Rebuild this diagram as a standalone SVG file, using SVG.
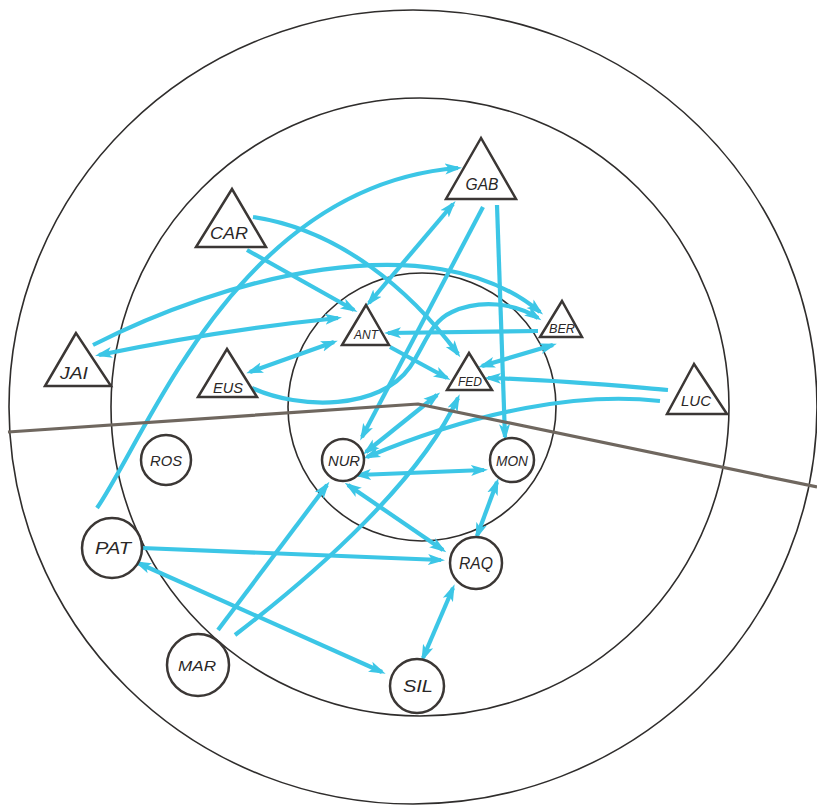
<svg xmlns="http://www.w3.org/2000/svg" width="817" height="807" viewBox="0 0 817 807">
<style>
.ring{fill:none;stroke:#2f2d2c;stroke-width:1.6}
.divider{fill:none;stroke:#6f675f;stroke-width:3.2;stroke-linejoin:round}
.c{fill:none;stroke:#3cc6e6;stroke-width:4.2;stroke-linecap:butt}
.e{marker-end:url(#ah)}
.b{marker-start:url(#ah);marker-end:url(#ah)}
.node{fill:#fff;stroke:#3b3735;stroke-width:2.5;stroke-linejoin:miter}
.lbl{font-family:"Liberation Sans",Arial,sans-serif;font-style:italic;fill:#2a2727;text-anchor:middle}
</style>
<defs>
<marker id="ah" markerUnits="userSpaceOnUse" markerWidth="18" markerHeight="14" refX="13" refY="7" orient="auto-start-reverse" viewBox="0 0 18 14">
<path d="M0,1.5 L17,7 L0,12.5 L4,7 Z" fill="#3cc6e6"/>
</marker>
</defs>
<rect width="817" height="807" fill="#fff"/>
<g id="rings">
<ellipse class="ring" cx="413" cy="407" rx="404" ry="397"/>
<circle class="ring" cx="420" cy="407" r="309"/>
<circle class="ring" cx="422" cy="407" r="134"/>
</g>
<g id="connectors">
<path class="c e" d="M97,508 C150,430 240,185 458,168"/>
<path class="c e" d="M93,345 C220,280 430,220 540,312"/>
<path class="c b" d="M99,355 Q220,330 338,318"/>
<path class="c e" d="M247,250 L354,310"/>
<path class="c e" d="M253,217 C340,230 410,290 458,354"/>
<path class="c b" d="M453,204 L369,303"/>
<path class="c e" d="M483,207 L362,437"/>
<path class="c e" d="M497,205 L505,437"/>
<path class="c e" d="M538,331 L388,333"/>
<path class="c b" d="M553,345 L482,366"/>
<path class="c b" d="M250,372 L334,342"/>
<path class="c e" d="M252,388 C300,410 380,410 410,367 C425,345 430,322 452,312 C480,299 515,303 538,318"/>
<path class="c e" d="M390,347 L447,378"/>
<path class="c e" d="M668,390 C620,386 560,380 488,378"/>
<path class="c e" d="M660,401 C580,392 480,410 367,457"/>
<path class="c b" d="M437,395 L366,452"/>
<path class="c b" d="M358,475 L484,470"/>
<path class="c e" d="M218,630 L327,485"/>
<path class="c e" d="M235,635 C320,570 420,480 458,398"/>
<path class="c e" d="M142,548 L441,560"/>
<path class="c b" d="M138,563 L382,672"/>
<path class="c b" d="M423,658 L453,588"/>
<path class="c b" d="M477,536 L497,482"/>
<path class="c b" d="M348,485 L443,550"/>
</g>
<polyline id="divider" class="divider" points="8,432 418,404 817,487"/>
<g id="GAB"><polygon class="node" points="481,138 446,199 516,199"/><text class="lbl" x="482" y="190" font-size="16" textLength="33" lengthAdjust="spacingAndGlyphs">GAB</text></g>
<g id="CAR"><polygon class="node" points="232,189 196,247 266,247"/><text class="lbl" x="229" y="239" font-size="16" textLength="38" lengthAdjust="spacingAndGlyphs">CAR</text></g>
<g id="JAI"><polygon class="node" points="76,333 45,386 111,386"/><text class="lbl" x="74" y="379" font-size="16" textLength="28" lengthAdjust="spacingAndGlyphs">JAI</text></g>
<g id="EUS"><polygon class="node" points="227,349 198,397 257,397"/><text class="lbl" x="228" y="393" font-size="15" textLength="30" lengthAdjust="spacingAndGlyphs">EUS</text></g>
<g id="ANT"><polygon class="node" points="366,305 342,345 389,345"/><text class="lbl" x="366" y="339" font-size="13" textLength="24" lengthAdjust="spacingAndGlyphs">ANT</text></g>
<g id="BER"><polygon class="node" points="562,301 540,337 582,337"/><text class="lbl" x="562" y="333" font-size="13" textLength="26" lengthAdjust="spacingAndGlyphs">BER</text></g>
<g id="FED"><polygon class="node" points="469,353 447,390 492,390"/><text class="lbl" x="470" y="386" font-size="13" textLength="24" lengthAdjust="spacingAndGlyphs">FED</text></g>
<g id="LUC"><polygon class="node" points="694,364 667,414 727,414"/><text class="lbl" x="696" y="406" font-size="15" textLength="30" lengthAdjust="spacingAndGlyphs">LUC</text></g>
<g id="ROS"><circle class="node" cx="166" cy="460" r="25"/><text class="lbl" x="166" y="466" font-size="15" textLength="32" lengthAdjust="spacingAndGlyphs">ROS</text></g>
<g id="PAT"><circle class="node" cx="112" cy="548" r="30"/><text class="lbl" x="113" y="554" font-size="17" textLength="36" lengthAdjust="spacingAndGlyphs">PAT</text></g>
<g id="NUR"><circle class="node" cx="343" cy="460" r="21"/><text class="lbl" x="344" y="466" font-size="15" textLength="32" lengthAdjust="spacingAndGlyphs">NUR</text></g>
<g id="MON"><circle class="node" cx="512" cy="460" r="22"/><text class="lbl" x="512" y="466" font-size="15" textLength="32" lengthAdjust="spacingAndGlyphs">MON</text></g>
<g id="RAQ"><circle class="node" cx="476" cy="563" r="26"/><text class="lbl" x="476" y="569" font-size="16" textLength="34" lengthAdjust="spacingAndGlyphs">RAQ</text></g>
<g id="MAR"><circle class="node" cx="198" cy="665" r="31"/><text class="lbl" x="197" y="671" font-size="15" textLength="38" lengthAdjust="spacingAndGlyphs">MAR</text></g>
<g id="SIL"><circle class="node" cx="417" cy="686" r="27"/><text class="lbl" x="418" y="692" font-size="17" textLength="30" lengthAdjust="spacingAndGlyphs">SIL</text></g>
</svg>
